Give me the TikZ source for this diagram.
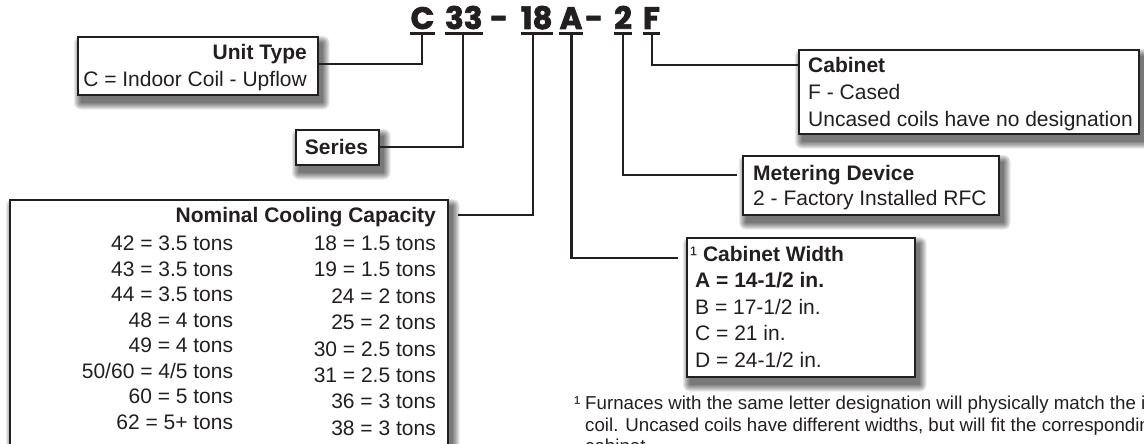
\documentclass[tikz,border=0pt]{standalone}
\usepackage{fontspec}
\setmainfont{Liberation Sans}
\newfontfamily\codefont{Poppins}[BoldFeatures={FakeBold=2.2}]
\usetikzlibrary{calc}
\definecolor{ink}{HTML}{231F20}
\pgfdeclarelayer{bg}\pgfdeclarelayer{shade}\pgfsetlayers{bg,shade,main}
\newcommand\boxshade[1]{%
  \begin{pgfonlayer}{shade}
  \foreach \r in {0,...,7}{%
    \fill[black,opacity=0.085,rounded corners=\r pt]
      ([xshift={4-\r},yshift={-7+\r}]#1.north west) rectangle ([xshift={4+\r},yshift={-7-\r}]#1.south east);}
  \end{pgfonlayer}}
\tikzset{
  txt/.style={inner sep=0pt, font=\fontsize{21}{25}\selectfont, text=ink},
  btxt/.style={inner sep=0pt, font=\fontsize{21}{25}\selectfont\bfseries, text=ink},
  fn/.style={inner sep=0pt, font=\fontsize{18.7}{21.5}\selectfont, text=ink, anchor=base west},
  code/.style={inner sep=0pt, anchor=base, font=\codefont\bfseries\fontsize{31}{31}\selectfont, text=ink},
  box/.style={draw=ink, line width=1.6pt, fill=white, inner sep=0pt, anchor=north west},
  conn/.style={draw=ink, line width=2.2pt},
  uline/.style={draw=ink, line width=2.4pt},
}
\begin{document}
\begin{tikzpicture}[x=1pt,y=-1pt]
\useasboundingbox (0,0) rectangle (1144,444);
\begin{pgfonlayer}{bg}
  \fill[white] (0,0) rectangle (1144,444);
\end{pgfonlayer}

% code
\node[code] (cC) at (422.5,29) {C};
\node[code] (c33) at (463.8,29) {33};
\node[code] (cd1) at (499,29) {-};
\node[code] (c18) at (536.7,29) {18};
\node[code] (cA) at (571,29) {A};
\node[code] (cd2) at (594,29) {-};
\node[code] (c2) at (623,29) {2};
\node[code] (cF) at (651.5,29) {F};
\foreach \n in {cC,c33,c18,cA,c2,cF}
  \draw[uline] ([yshift=-4.5pt]\n.base west) -- ([yshift=-4.5pt]\n.base east);
\coordinate (uC) at (422.3,33.5);
\coordinate (u33) at (463.3,33.5);
\coordinate (u18) at (532.7,33.5);
\coordinate (uA) at (571.5,33.5);
\coordinate (u2) at (623,33.5);
\coordinate (uF) at (652,33.5);

% boxes
\node[box, minimum width=240pt, minimum height=58pt] (unit) at (77,36) {};
\node[box, minimum width=83pt, minimum height=35pt] (series) at (295,129) {};
\node[box, minimum width=438pt, minimum height=300pt] (nom) at (9,199) {};
\node[box, minimum width=340pt, minimum height=84pt] (cab) at (798,49) {};
\node[box, minimum width=256pt, minimum height=59pt] (met) at (742,155) {};
\node[box, minimum width=228pt, minimum height=139pt] (cw) at (686,237) {};
\foreach \b in {unit,series,nom,cab,met,cw} {\boxshade{\b}}

% unit type
\node[btxt, anchor=base east] (ut1) at (307,60) {Unit Type};
\node[txt, anchor=base east] (ut2) at (307,86.5) {C = Indoor Coil - Upflow};
% series
\node[btxt, anchor=base] (se) at (336.5,154) {Series};
% nominal
\node[btxt, anchor=base east] (nt) at (436,222.5) {Nominal Cooling Capacity};
\foreach [count=\i from 0] \t in {42 = 3.5 tons,43 = 3.5 tons,44 = 3.5 tons,48 = 4 tons,49 = 4 tons,50/60 = 4/5 tons,60 = 5 tons,62 = 5+ tons}
  \node[txt, anchor=base east] (nl\i) at (233.3,250.5+25.5*\i) {\t};
\foreach [count=\i from 0] \t in {18 = 1.5 tons,19 = 1.5 tons,24 = 2 tons,25 = 2 tons,30 = 2.5 tons,31 = 2.5 tons,36 = 3 tons,38 = 3 tons}
  \node[txt, anchor=base east] (nr\i) at (436,250.5+26.4*\i) {\t};
% cabinet
\node[btxt, anchor=base west] (cb1) at (808,72.5) {Cabinet};
\node[txt, anchor=base west] (cb2) at (808,99.5) {F - Cased};
\node[txt, anchor=base west] (cb3) at (808,126) {Uncased coils have no designation};
% metering
\node[btxt, anchor=base west] (mt1) at (753,180.5) {Metering Device};
\node[txt, anchor=base west] (mt2) at (753,205.5) {2 - Factory Installed RFC};
% cabinet width
\node[btxt, anchor=base west] (cw1) at (690,261.5) {{\mdseries ¹} Cabinet Width};
\node[btxt, anchor=base west] (cw2) at (695,287.5) {A = 14-1/2 in.};
\node[txt, anchor=base west] (cw3) at (695,314.5) {B = 17-1/2 in.};
\node[txt, anchor=base west] (cw4) at (695,340.5) {C = 21 in.};
\node[txt, anchor=base west] (cw5) at (695,367.5) {D = 24-1/2 in.};
% footnote
\node[fn] (fs) at (574,409.5) {¹};
\node[fn] (f1) at (585,409.5) {Furnaces with the same letter designation will physically match the indoor};
\node[fn] (f2) at (585,431) {coil. Uncased coils have different widths, but will fit the corresponding};
\node[fn] (f3) at (585,452.5) {cabinet.};

% connectors
\draw[conn] (uC) |- (unit.east |- 0,64);
\draw[conn] (u33) |- (series.east);
\draw[conn, shorten >=9pt] (u18) |- (nom.east |- 0,215);
\draw[conn, shorten >=8pt] (uA) |- (cw.west |- 0,258);
\draw[conn, shorten >=5pt] (u2) |- (met.west |- 0,175);
\draw[conn] (uF) |- (cab.west |- 0,65);
\end{tikzpicture}
\end{document}
